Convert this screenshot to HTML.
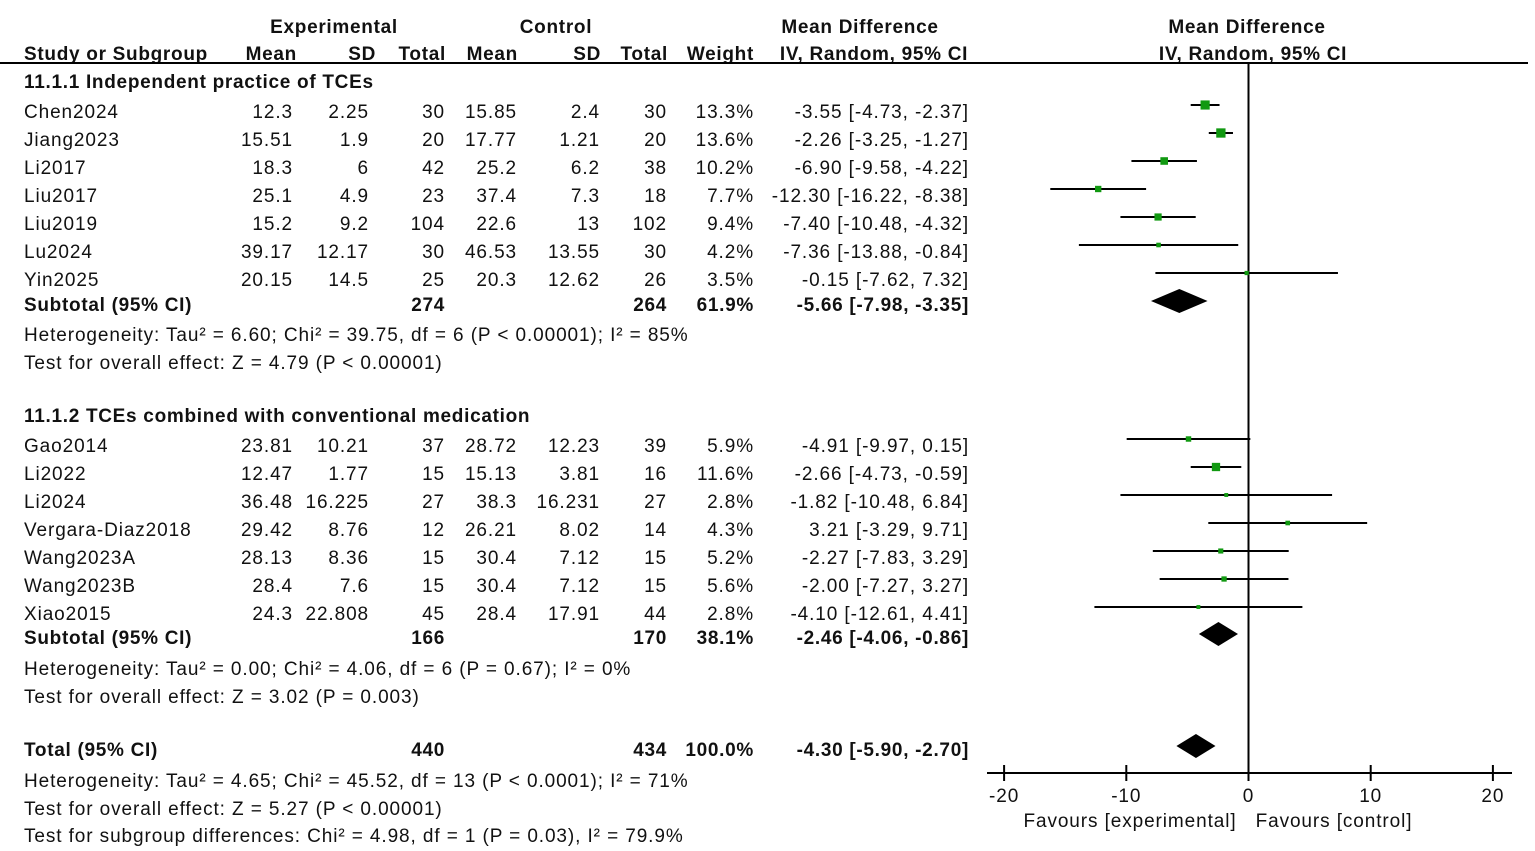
<!DOCTYPE html>
<html><head><meta charset="utf-8"><style>
html,body{margin:0;padding:0;background:#fff;}
svg{display:block;font-family:"Liberation Sans",Arial,sans-serif;}
text{font-size:19px;fill:#111;letter-spacing:0.9px;}
.b{font-weight:bold;letter-spacing:0.7px;}
</style></head><body>
<svg id="plot" width="1535" height="851" viewBox="0 0 1535 851"></svg>
<script>
const studies=["Chen2024","Jiang2023","Li2017","Liu2017","Liu2019","Lu2024","Yin2025","Gao2014","Li2022","Li2024","Vergara-Diaz2018","Wang2023A","Wang2023B","Xiao2015"];
const expMean=["12.3","15.51","18.3","25.1","15.2","39.17","20.15","23.81","12.47","36.48","29.42","28.13","28.4","24.3"];
const expSD=["2.25","1.9","6","4.9","9.2","12.17","14.5","10.21","1.77","16.225","8.76","8.36","7.6","22.808"];
const expN=["30","20","42","23","104","30","25","37","15","27","12","15","15","45"];
const ctlMean=["15.85","17.77","25.2","37.4","22.6","46.53","20.3","28.72","15.13","38.3","26.21","30.4","30.4","28.4"];
const ctlSD=["2.4","1.21","6.2","7.3","13","13.55","12.62","12.23","3.81","16.231","8.02","7.12","7.12","17.91"];
const ctlN=["30","20","38","18","102","30","26","39","16","27","14","15","15","44"];
const weights=[13.3,13.6,10.2,7.7,9.4,4.2,3.5,5.9,11.6,2.8,4.3,5.2,5.6,2.8];
const md=[-3.55,-2.26,-6.90,-12.30,-7.40,-7.36,-0.15,-4.91,-2.66,-1.82,3.21,-2.27,-2.00,-4.10];
const lo=[-4.73,-3.25,-9.58,-16.22,-10.48,-13.88,-7.62,-9.97,-4.73,-10.48,-3.29,-7.83,-7.27,-12.61];
const hi=[-2.37,-1.27,-4.22,-8.38,-4.32,-0.84,7.32,0.15,-0.59,6.84,9.71,3.29,3.27,4.41];
const studyRows=[0,1,2,3,4,5,6,12,13,14,15,16,17,18];
const summaryNames=["Subtotal (95% CI)","Subtotal (95% CI)","Total (95% CI)"];
const summaryMD=[-5.66,-2.46,-4.30];
const summaryLo=[-7.98,-4.06,-5.90];
const summaryHi=[-3.35,-0.86,-2.70];
const summaryExpN=["274","166","440"];
const summaryCtlN=["264","170","434"];
const summaryW=["61.9%","38.1%","100.0%"];
const summaryY=[304,637,749];
const ticks=[-20,-10,0,10,20];

const svg=document.getElementById('plot');
const NS="http://www.w3.org/2000/svg";
const x0=1248.5, sc=12.22;
function X(v){return x0+v*sc;}
function rowY(r){return r<12?111+r*28:445+(r-12)*28;}
function el(tag,attrs){const e=document.createElementNS(NS,tag);for(const k in attrs)e.setAttribute(k,attrs[k]);svg.appendChild(e);return e;}
function txt(s,x,y,anchor,bold,name){
  if(anchor==='end')x+=1;
  const t=el('text',{x:x,y:y,'text-anchor':anchor||'start'});if(bold)t.setAttribute('class','b');t.textContent=s;


return t;}
function fmt(v){return v.toFixed(2);}

txt("Experimental",334,33,'middle',1,'experimental-header');
txt("Control",556,33,'middle',1,'control-header');
txt("Mean Difference",860,33,'middle',1,'md-header');
txt("Mean Difference",1247,33,'middle',1,'plot-md-header');
txt("Study or Subgroup",24,60,'start',1,'study-header');
txt("Mean",296,60,'end',1,'exp-mean-header');
txt("SD",375,60,'end',1,'exp-sd-header');
txt("Total",445,60,'end',1,'exp-total-header');
txt("Mean",517,60,'end',1,'ctl-mean-header');
txt("SD",600,60,'end',1,'ctl-sd-header');
txt("Total",667,60,'end',1,'ctl-total-header');
txt("Weight",753,60,'end',1,'weight-header');
txt("IV, Random, 95% CI",874,60,'middle',1,'ci-header');
txt("IV, Random, 95% CI",1253,60,'middle',1,'plot-ci-header');
const hl=el('line',{x1:0,y1:63,x2:1528,y2:63,stroke:'#000','stroke-width':2});



txt("11.1.1 Independent practice of TCEs",24,88,'start',1,'subgroup-1-title');
txt("11.1.2 TCEs combined with conventional medication",24,422,'start',1,'subgroup-2-title');

const zl=el('line',{x1:X(0),y1:63,x2:X(0),y2:773,stroke:'#000','stroke-width':2});



studies.forEach((s,i)=>{
  const y=rowY(studyRows[i]), by=y+7;
  txt(s,24,by,'start',0,'study-name');
  txt(expMean[i],292,by,'end',0,'exp-mean');
  txt(expSD[i],368,by,'end',0,'exp-sd');
  txt(expN[i],444,by,'end',0,'exp-total');
  txt(ctlMean[i],516,by,'end',0,'ctl-mean');
  txt(ctlSD[i],599,by,'end',0,'ctl-sd');
  txt(ctlN[i],666,by,'end',0,'ctl-total');
  txt(weights[i].toFixed(1)+"%",753,by,'end',0,'weight');
  txt(fmt(md[i])+" ["+fmt(lo[i])+", "+fmt(hi[i])+"]",968,by,'end',0,'ci-text');
  const l=el('line',{x1:X(lo[i]),y1:y-6,x2:X(hi[i]),y2:y-6,stroke:'#000','stroke-width':2});
  
  
  const sz=2.5+weights[i]*0.5;
  const r=el('rect',{x:X(md[i])-sz/2,y:y-6-sz/2,width:sz,height:sz,fill:'#119911'});
  
  
});

summaryY.forEach((y,i)=>{
  const by=y+7;
  txt(summaryNames[i],24,by,'start',1,'summary-name');
  txt(summaryExpN[i],444,by,'end',1,'summary-exp-total');
  txt(summaryCtlN[i],666,by,'end',1,'summary-ctl-total');
  txt(summaryW[i],753,by,'end',1,'summary-weight');
  txt(fmt(summaryMD[i])+" ["+fmt(summaryLo[i])+", "+fmt(summaryHi[i])+"]",968,by,'end',1,'summary-ci-text');
  const cy=y-3;
  const d=el('polygon',{points:`${X(summaryLo[i])},${cy} ${X(summaryMD[i])},${cy-12} ${X(summaryHi[i])},${cy} ${X(summaryMD[i])},${cy+12}`,fill:'#000'});
  
  
});

txt("Heterogeneity: Tau\u00b2 = 6.60; Chi\u00b2 = 39.75, df = 6 (P < 0.00001); I\u00b2 = 85%",24,341,'start',0,'heterogeneity-1');
txt("Test for overall effect: Z = 4.79 (P < 0.00001)",24,369,'start',0,'overall-effect-1');
txt("Heterogeneity: Tau\u00b2 = 0.00; Chi\u00b2 = 4.06, df = 6 (P = 0.67); I\u00b2 = 0%",24,675,'start',0,'heterogeneity-2');
txt("Test for overall effect: Z = 3.02 (P = 0.003)",24,703,'start',0,'overall-effect-2');
txt("Heterogeneity: Tau\u00b2 = 4.65; Chi\u00b2 = 45.52, df = 13 (P < 0.0001); I\u00b2 = 71%",24,787,'start',0,'heterogeneity-total');
txt("Test for overall effect: Z = 5.27 (P < 0.00001)",24,815,'start',0,'overall-effect-total');
txt("Test for subgroup differences: Chi\u00b2 = 4.98, df = 1 (P = 0.03), I\u00b2 = 79.9%",24,842,'start',0,'subgroup-differences');

const ax=el('line',{x1:987,y1:773,x2:1512,y2:773,stroke:'#000','stroke-width':2});


ticks.forEach(t=>{
  const tk=el('line',{x1:X(t),y1:765,x2:X(t),y2:781,stroke:'#000','stroke-width':2});
  
  
  txt(String(t),X(t),802,'middle',0,'x-tick-label');
});
txt("Favours [experimental]",1130,827,'middle',0,'favours-experimental');
txt("Favours [control]",1334,827,'middle',0,'favours-control');
</script>
</body></html>
